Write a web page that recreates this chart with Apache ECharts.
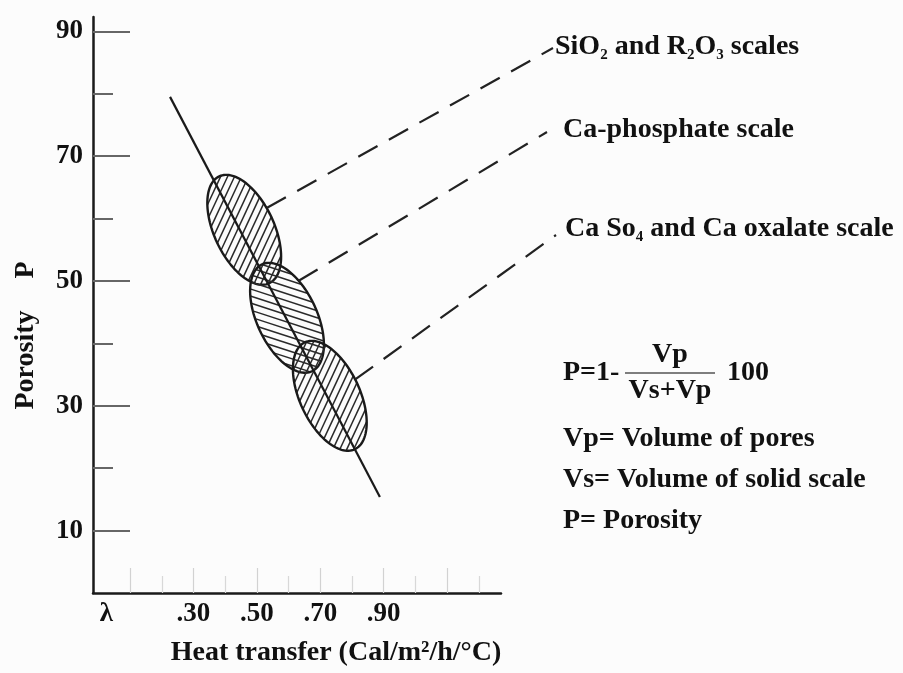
<!DOCTYPE html>
<html>
<head>
<meta charset="utf-8">
<script src="https://cdn.jsdelivr.net/npm/echarts@6/dist/echarts.min.js"></script>
<style>
  html, body { margin: 0; padding: 0; background: #fcfcfc; }
  #chart { width: 903px; height: 673px; }
</style>
</head>
<body>
<div id="chart"></div>
<script>
// Porosity of scale deposits against heat transfer
const trendHeat = [0.226, 0.888];
const trendPorosity = [79.5, 15.4];

const scaleNames = ['SiO2 and R2O3 scales', 'Ca-phosphate scale', 'Ca So4 and Ca oxalate scale'];
const scaleHeat = [0.460, 0.595, 0.730];
const scalePorosity = [58.2, 44.1, 31.6];

const yLabelValues = [10, 30, 50, 70, 90];
const yMinorValues = [20, 40, 60, 80];
const xMajorTicks = [0.1, 0.3, 0.5, 0.7, 0.9, 1.1];
const xMinorTicks = [0.2, 0.4, 0.6, 0.8, 1.0, 1.2];
const xLabelValues = [0.025, 0.3, 0.5, 0.7, 0.9];
const xLabelTexts = ['λ', '.30', '.50', '.70', '.90'];

// ---- drawing style ----
const FONT = 'Liberation Serif';
const INK = '#111';
const ELLIPSE = { a: 59, b: 30, tilt: 65 };           // px semi-axes, tilt in degrees
const HATCH_ANGLE = [-65, 18, -65];                    // degrees, screen space
const HATCH_GAP = [6.3, 6.7, 6.3];
const LEADER_PHI = [100, 119, 94];                     // attach point on outline, degrees
const LEADER_END = [[553, 48], [547, 132], [556, 235]];
const LABEL_POS = [[555, 47], [563, 130], [565, 229]];
const LABEL_RICH = [
  '{t|SiO}{s|2}{t| and R}{s|2}{t|O}{s|3}{t| scales}',
  '{t|Ca-phosphate scale}',
  '{t|Ca So}{s|4}{t| and Ca oxalate scale}'
];

const chart = echarts.init(document.getElementById('chart'), null, { renderer: 'canvas' });

function renderScale(params, api) {
  const i = params.dataIndex;
  const c = api.coord([api.value(0), api.value(1)]);
  const th = ELLIPSE.tilt * Math.PI / 180;
  const a = ELLIPSE.a, b = ELLIPSE.b;
  const m = [Math.cos(th), Math.sin(th)];
  const n = [Math.sin(th), -Math.cos(th)];
  const children = [];

  // hatch lines clipped analytically to the ellipse
  const ang = HATCH_ANGLE[i] * Math.PI / 180;
  const gap = HATCH_GAP[i];
  const d = [Math.cos(ang), Math.sin(ang)];
  const p = [-d[1], d[0]];
  const dl = [d[0] * m[0] + d[1] * m[1], d[0] * n[0] + d[1] * n[1]];
  const pl = [p[0] * m[0] + p[1] * m[1], p[0] * n[0] + p[1] * n[1]];
  const A = (dl[0] / a) ** 2 + (dl[1] / b) ** 2;
  for (let t = -a + gap * 0.4; t < a; t += gap) {
    const q = [t * pl[0], t * pl[1]];
    const B = 2 * (q[0] * dl[0] / (a * a) + q[1] * dl[1] / (b * b));
    const C = (q[0] / a) ** 2 + (q[1] / b) ** 2 - 1;
    const disc = B * B - 4 * A * C;
    if (disc <= 0) continue;
    const r = Math.sqrt(disc);
    const s1 = (-B - r) / (2 * A), s2 = (-B + r) / (2 * A);
    const ox = c[0] + t * p[0], oy = c[1] + t * p[1];
    children.push({
      type: 'line',
      shape: { x1: ox + s1 * d[0], y1: oy + s1 * d[1], x2: ox + s2 * d[0], y2: oy + s2 * d[1] },
      style: { stroke: '#2a2a2a', lineWidth: 1.5 }
    });
  }

  // outline
  const pts = [];
  for (let k = 0; k < 120; k++) {
    const f = k / 120 * Math.PI * 2;
    const u = a * Math.cos(f), v = b * Math.sin(f);
    pts.push([c[0] + u * m[0] + v * n[0], c[1] + u * m[1] + v * n[1]]);
  }
  children.push({
    type: 'polygon',
    shape: { points: pts },
    style: { fill: 'none', stroke: '#1a1a1a', lineWidth: 2.4 }
  });

  // dashed leader towards the label
  const phi = LEADER_PHI[i] * Math.PI / 180;
  const u0 = a * Math.cos(phi), v0 = b * Math.sin(phi);
  const sx = c[0] + u0 * m[0] + v0 * n[0], sy = c[1] + u0 * m[1] + v0 * n[1];
  children.push({
    type: 'line',
    shape: { x1: sx, y1: sy, x2: LEADER_END[i][0], y2: LEADER_END[i][1] },
    style: { stroke: '#222', lineWidth: 2.2, lineDash: [22, 13] }
  });

  return { type: 'group', children: children };
}

const tickLabelStyle = { fontFamily: FONT, fontWeight: 'bold', fontSize: 27, color: INK };
const textStyle = { fontFamily: FONT, fontWeight: 'bold', fontSize: 28, fill: INK };

const graphics = [];
scaleNames.forEach((name, i) => {
  graphics.push({
    type: 'text', x: LABEL_POS[i][0], y: LABEL_POS[i][1],
    style: {
      text: LABEL_RICH[i], fill: INK, verticalAlign: 'middle', align: 'left',
      rich: {
        t: { fontFamily: FONT, fontWeight: 'bold', fontSize: 28, lineHeight: 32, fill: INK },
        s: { fontFamily: FONT, fontWeight: 'bold', fontSize: 15, lineHeight: 15, fill: INK, verticalAlign: 'bottom' }
      }
    }
  });
});

// formula block
graphics.push(
  { type: 'text', x: 563, y: 373, style: Object.assign({ text: 'P=1-', verticalAlign: 'middle' }, textStyle) },
  { type: 'line', shape: { x1: 625, y1: 373, x2: 715, y2: 373 }, style: { stroke: '#555', lineWidth: 1.5 } },
  { type: 'text', x: 670, y: 355, style: Object.assign({ text: 'Vp', align: 'center', verticalAlign: 'middle' }, textStyle) },
  { type: 'text', x: 670, y: 391, style: Object.assign({ text: 'Vs+Vp', align: 'center', verticalAlign: 'middle' }, textStyle) },
  { type: 'text', x: 727, y: 373, style: Object.assign({ text: '100', verticalAlign: 'middle' }, textStyle) },
  { type: 'text', x: 563, y: 439, style: Object.assign({ text: 'Vp= Volume of pores', verticalAlign: 'middle' }, textStyle) },
  { type: 'text', x: 563, y: 480, style: Object.assign({ text: 'Vs= Volume of solid scale', verticalAlign: 'middle' }, textStyle) },
  { type: 'text', x: 563, y: 521, style: Object.assign({ text: 'P= Porosity', verticalAlign: 'middle' }, textStyle) }
);

// axis titles
graphics.push(
  { type: 'text', x: 336, y: 653, style: Object.assign({ text: 'Heat transfer (Cal/m²/h/°C)', align: 'center', verticalAlign: 'middle' }, textStyle) },
  { type: 'text', x: 26, y: 360, rotation: Math.PI / 2, style: Object.assign({ text: 'Porosity', align: 'center', verticalAlign: 'middle' }, textStyle) },
  { type: 'text', x: 26, y: 270, rotation: Math.PI / 2, style: Object.assign({ text: 'P', align: 'center', verticalAlign: 'middle' }, textStyle) }
);

const X_MIN = -0.017, X_MAX = 1.27, Y_MIN = 0, Y_MAX = 92.3;

const option = {
  backgroundColor: '#fcfcfc',
  animation: false,
  grid: { left: 93, right: 402, top: 17, bottom: 80, containLabel: false, outerBoundsMode: 'none' },
  xAxis: [
    {
      type: 'value', min: X_MIN, max: X_MAX, position: 'bottom',
      axisLine: { show: true, onZero: false, lineStyle: { color: '#1a1a1a', width: 2.5 } },
      axisTick: { show: true, inside: true, length: 25, customValues: xMajorTicks, lineStyle: { color: '#d2d2d2', width: 1.2 } },
      axisLabel: {
        show: true, margin: 8, customValues: xLabelValues,
        formatter: (v) => {
          let best = 0;
          xLabelValues.forEach((x, k) => { if (Math.abs(x - v) < Math.abs(xLabelValues[best] - v)) best = k; });
          return xLabelTexts[best];
        },
        ...tickLabelStyle
      },
      splitLine: { show: false }
    },
    {
      type: 'value', min: X_MIN, max: X_MAX, position: 'bottom', offset: 0,
      axisLine: { show: false, onZero: false },
      axisTick: { show: true, inside: true, length: 17, customValues: xMinorTicks, lineStyle: { color: '#d8d8d8', width: 1.2 } },
      axisLabel: { show: false },
      splitLine: { show: false }
    }
  ],
  yAxis: [
    {
      type: 'value', min: Y_MIN, max: Y_MAX, position: 'left',
      axisLine: { show: true, onZero: false, lineStyle: { color: '#1a1a1a', width: 2.5 } },
      axisTick: { show: true, inside: true, length: 37, customValues: yLabelValues, lineStyle: { color: '#666', width: 2 } },
      axisLabel: { show: true, margin: 10, customValues: yLabelValues, ...tickLabelStyle },
      splitLine: { show: false }
    },
    {
      type: 'value', min: Y_MIN, max: Y_MAX, position: 'left', offset: 0,
      axisLine: { show: false, onZero: false },
      axisTick: { show: true, inside: true, length: 20, customValues: yMinorValues, lineStyle: { color: '#666', width: 2 } },
      axisLabel: { show: false },
      splitLine: { show: false }
    }
  ],
  series: [
    {
      type: 'custom',
      name: 'scales',
      coordinateSystem: 'cartesian2d',
      xAxisIndex: 0, yAxisIndex: 0,
      clip: false,
      z: 2,
      renderItem: renderScale,
      encode: { x: 0, y: 1 },
      data: scaleHeat.map((x, i) => [x, scalePorosity[i], scaleNames[i]])
    },
    {
      type: 'line',
      name: 'trend',
      xAxisIndex: 0, yAxisIndex: 0,
      z: 3,
      symbol: 'none',
      lineStyle: { color: '#1a1a1a', width: 2.2 },
      data: trendHeat.map((x, i) => [x, trendPorosity[i]])
    }
  ],
  graphic: graphics
};

chart.setOption(option);
</script>
</body>
</html>
